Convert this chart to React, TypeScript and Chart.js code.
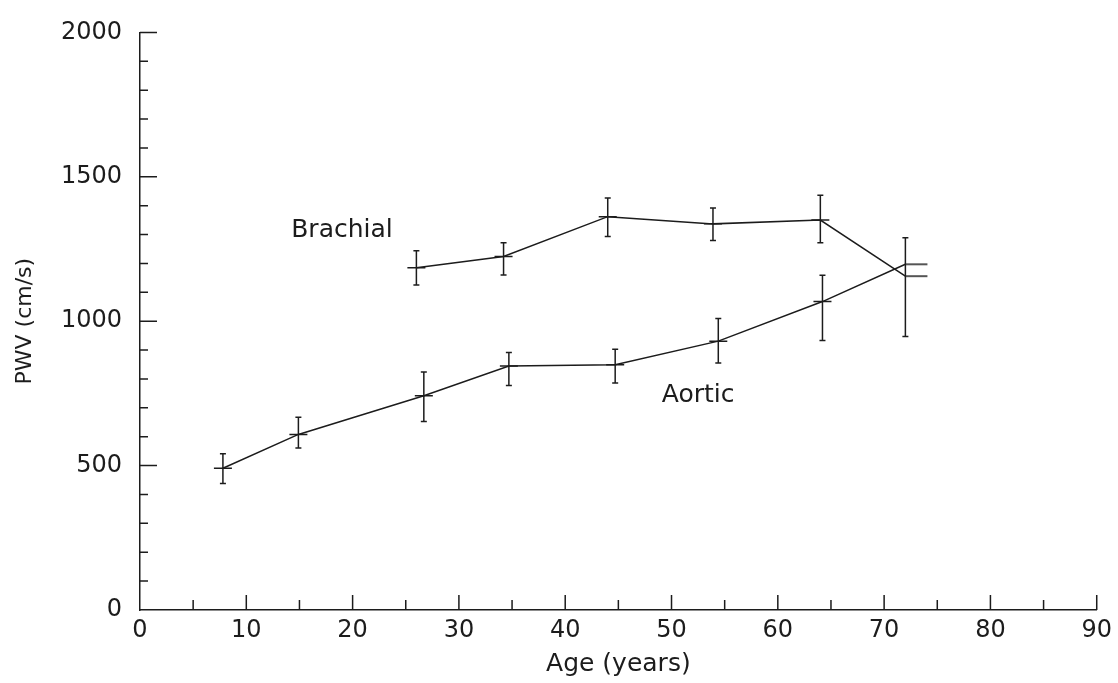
import React, { useEffect, useRef } from "react";
import { Chart, registerables } from "chart.js";

Chart.register(...registerables);

// Aortic PWV by age
const aorticAge = [7.8, 14.9, 26.7, 34.7, 44.7, 54.4, 64.2, 72];
const aorticPwv = [491, 608, 742, 845, 849, 931, 1068, 1197];
const aorticLow = [438, 561, 653, 777, 786, 855, 933, null];
const aorticHigh = [541, 667, 824, 892, 903, 1009, 1159, null];

// Brachial PWV by age
const brachialAge = [26, 34.2, 44, 53.9, 64, 72];
const brachialPwv = [1185, 1224, 1362, 1337, 1350, 1156];
const brachialLow = [1125, 1160, 1293, 1279, 1272, 947];
const brachialHigh = [1244, 1272, 1427, 1392, 1436, 1289];

// Axis settings
const xMin = 0;
const xMax = 90;
const xLabelStep = 10;
const xMinorStep = 5;
const yMin = 0;
const yMax = 2000;
const yLabelStep = 500;
const yMinorStep = 100;

// In-plot series labels (data coordinates)
const seriesLabels = ["Brachial", "Aortic"];
const seriesLabelAge = [19.0, 52.5];
const seriesLabelPwv = [1292, 721];

const INK = "#1c1c1c";
const FONT = "'DejaVu Sans', 'Liberation Sans', sans-serif";

export default function App() {
  const ref = useRef<HTMLCanvasElement>(null);

  useEffect(() => {
    document.body.style.margin = "0";
    const canvas = ref.current;
    if (!canvas) return;

    // marker for the final point: horizontal stroke to the right only
    const tail = document.createElement("canvas");
    tail.width = 46;
    tail.height = 4;
    const tctx = tail.getContext("2d");
    if (tctx) {
      tctx.strokeStyle = INK;
      tctx.lineWidth = 1.5;
      tctx.beginPath();
      tctx.moveTo(23, 2);
      tctx.lineTo(45, 2);
      tctx.stroke();
    }

    const errorBarPlugin = {
      id: "errorBars",
      afterDatasetsDraw(chart: any) {
        const { ctx } = chart;
        const xs = chart.scales.x;
        const ys = chart.scales.y;
        const sets = [
          { ages: aorticAge, low: aorticLow, high: aorticHigh },
          { ages: brachialAge, low: brachialLow, high: brachialHigh },
        ];
        ctx.save();
        ctx.strokeStyle = INK;
        ctx.lineWidth = 1.5;
        sets.forEach((s) => {
          s.ages.forEach((a, i) => {
            const lo = s.low[i];
            const hi = s.high[i];
            if (lo == null || hi == null) return;
            const px = xs.getPixelForValue(a);
            const pl = ys.getPixelForValue(lo);
            const ph = ys.getPixelForValue(hi);
            ctx.beginPath();
            ctx.moveTo(px, pl);
            ctx.lineTo(px, ph);
            ctx.moveTo(px - 3, pl);
            ctx.lineTo(px + 3, pl);
            ctx.moveTo(px - 3, ph);
            ctx.lineTo(px + 3, ph);
            ctx.stroke();
          });
        });
        ctx.restore();
      },
    };

    const axisTickPlugin = {
      id: "inwardTicks",
      afterDatasetsDraw(chart: any) {
        const { ctx, chartArea } = chart;
        const xs = chart.scales.x;
        const ys = chart.scales.y;
        ctx.save();
        ctx.strokeStyle = INK;
        ctx.lineWidth = 1.5;
        ctx.beginPath();
        for (let v = xMin + xMinorStep; v <= xMax + 1e-6; v += xMinorStep) {
          const px = xs.getPixelForValue(v);
          const len = v % xLabelStep === 0 ? 15 : 10;
          ctx.moveTo(px, chartArea.bottom);
          ctx.lineTo(px, chartArea.bottom - len);
        }
        for (let v = yMin + yMinorStep; v <= yMax + 1e-6; v += yMinorStep) {
          const py = ys.getPixelForValue(v);
          const len = v % yLabelStep === 0 ? 17 : 8;
          ctx.moveTo(chartArea.left, py);
          ctx.lineTo(chartArea.left + len, py);
        }
        ctx.stroke();

        ctx.fillStyle = INK;
        ctx.font = `25px ${FONT}`;
        ctx.textAlign = "center";
        ctx.textBaseline = "alphabetic";
        seriesLabels.forEach((t, i) => {
          ctx.fillText(
            t,
            xs.getPixelForValue(seriesLabelAge[i]),
            ys.getPixelForValue(seriesLabelPwv[i])
          );
        });
        ctx.restore();
      },
    };

    const markerStyle = (n: number) => (c: any) => (c.dataIndex === n - 1 ? tail : "line");

    const chart = new Chart(canvas, {
      type: "scatter",
      data: {
        datasets: [
          {
            label: "Aortic",
            data: aorticAge.map((a, i) => ({ x: a, y: aorticPwv[i] })),
            showLine: true,
            borderColor: INK,
            backgroundColor: INK,
            borderWidth: 1.5,
            pointStyle: markerStyle(aorticAge.length),
            pointRadius: 9,
            pointBorderWidth: 1.5,
            tension: 0,
          },
          {
            label: "Brachial",
            data: brachialAge.map((a, i) => ({ x: a, y: brachialPwv[i] })),
            showLine: true,
            borderColor: INK,
            backgroundColor: INK,
            borderWidth: 1.5,
            pointStyle: markerStyle(brachialAge.length),
            pointRadius: 9,
            pointBorderWidth: 1.5,
            tension: 0,
          },
        ],
      },
      options: {
        animation: false,
        responsive: true,
        maintainAspectRatio: false,
        layout: { padding: { top: 25, right: 18, left: 0, bottom: 0 } },
        plugins: {
          legend: { display: false },
          tooltip: { enabled: false },
        },
        scales: {
          x: {
            type: "linear",
            min: xMin,
            max: xMax,
            afterFit: (s: any) => {
              s.height = 73;
            },
            grid: { display: false, drawTicks: false },
            border: { display: true, color: INK, width: 1.5 },
            ticks: {
              stepSize: xLabelStep,
              autoSkip: false,
              maxRotation: 0,
              padding: 6,
              color: INK,
              font: { family: FONT, size: 24 },
              callback: (v: any) => String(v),
            },
            title: {
              display: true,
              text: "Age (years)",
              color: INK,
              font: { family: FONT, size: 25 },
              padding: { top: 0, bottom: 4 },
            },
          },
          y: {
            type: "linear",
            min: yMin,
            max: yMax,
            afterFit: (s: any) => {
              s.width = 140;
            },
            grid: { display: false, drawTicks: false },
            border: { display: true, color: INK, width: 1.5 },
            ticks: {
              stepSize: yLabelStep,
              padding: 18,
              color: INK,
              font: { family: FONT, size: 24 },
              callback: (v: any) => String(v),
            },
            title: {
              display: true,
              text: "PWV (cm/s)",
              color: INK,
              font: { family: FONT, size: 22 },
              padding: { top: 12, bottom: 0 },
            },
          },
        },
      },
      plugins: [errorBarPlugin, axisTickPlugin],
    });

    return () => chart.destroy();
  }, []);

  return (
    <div style={{ position: "fixed", left: 0, top: 0, width: 1118, height: 683, background: "#fff" }}>
      <canvas ref={ref} />
    </div>
  );
}
